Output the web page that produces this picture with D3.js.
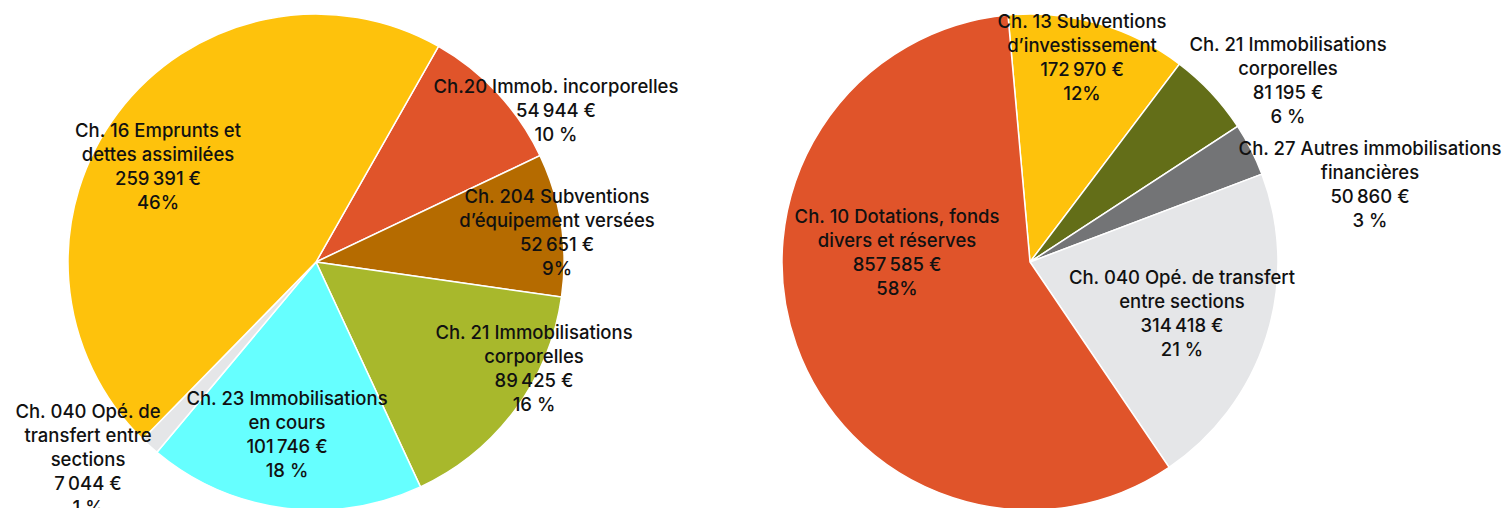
<!DOCTYPE html>
<html>
<head>
<meta charset="utf-8">
<script src="https://cdn.jsdelivr.net/npm/d3@7"></script>
<style>
  html, body { margin: 0; padding: 0; background: #fff; overflow: hidden; }
  svg { display: block; }
  .lbl { font-family: Inter, "Noto Sans", sans-serif; font-size: 18.5px; font-weight: 500; fill: #111; }
</style>
</head>
<body>
<svg id="chart"></svg>
<script>
// Left pie
const leftCats = ["Ch. 20 Immob. incorporelles", "Ch. 204 Subventions d'équipement versées", "Ch. 21 Immobilisations corporelles",
    "Ch. 23 Immobilisations en cours", "Ch. 040 Opé. de transfert entre sections", "Ch. 16 Emprunts et dettes assimilées"];
const leftValues = [54944, 52651, 89425, 101746, 7044, 259391];
const leftPct = ["10 %", "9%", "16 %", "18 %", "1 %", "46%"];
const leftLines = [
    ["Ch.20 Immob. incorporelles"],
    ["Ch. 204 Subventions", "d’équipement versées"],
    ["Ch. 21 Immobilisations", "corporelles"],
    ["Ch. 23 Immobilisations", "en cours"],
    ["Ch. 040 Opé. de", "transfert entre", "sections"],
    ["Ch. 16 Emprunts et", "dettes assimilées"],
];
const leftColors = ["#E0542A", "#B56B00", "#A8B82C", "#66FFFF", "#E5E6E8", "#FEC20C"];

// Right pie
const rightCats = ["Ch. 13 Subventions d'investissement", "Ch. 21 Immobilisations corporelles",
    "Ch. 27 Autres immobilisations financières", "Ch. 040 Opé. de transfert entre sections", "Ch. 10 Dotations, fonds divers et réserves"];
const rightValues = [172970, 81195, 50860, 314418, 857585];
const rightPct = ["12%", "6 %", "3 %", "21 %", "58%"];
const rightLines = [
    ["Ch. 13 Subventions", "d’investissement"],
    ["Ch. 21 Immobilisations", "corporelles"],
    ["Ch. 27 Autres immobilisations", "financières"],
    ["Ch. 040 Opé. de transfert", "entre sections"],
    ["Ch. 10 Dotations, fonds", "divers et réserves"],
];
const rightColors = ["#FEC20C", "#636E18", "#737476", "#E5E6E8", "#E0542A"];

const width = 1510;
const height = 508;
const svg = d3.select("#chart").attr("width", width).attr("height", height);

const fmt = (v) => d3.format(",")(v).replace(/,/g, "\u202F") + "\u00A0€";

// label anchor offsets from pie centre (layout only)
const leftLabelAt = [[240, -151], [241, -29], [218, 107], [-29, 173], [-228, 198], [-158, -95]];
const rightLabelAt = [[52, -204], [258, -181], [340, -77], [152, 52], [-133, -9]];

function drawPie(cx, cy, r, values, colors, lines, pct, startDeg, labelAt) {
    const g = svg.append("g").attr("transform", `translate(${cx},${cy})`);
    const start = (startDeg * Math.PI) / 180;
    const pie = d3.pie().sort(null).startAngle(start).endAngle(start + 2 * Math.PI);
    const arc = d3.arc().innerRadius(0).outerRadius(r);
    const arcs = pie(values);

    g.selectAll("path")
        .data(arcs)
        .join("path")
        .attr("d", arc)
        .attr("fill", (d, i) => colors[i])
        .attr("stroke", "#fff")
        .attr("stroke-width", 1.5);

    const lineH = 24;
    arcs.forEach((d, i) => {
        const rows = lines[i].concat([fmt(values[i]), pct[i]]);
        const [lx, ly] = labelAt[i];
        const y0 = ly - ((rows.length - 1) * lineH) / 2;
        const t = g.append("text").attr("class", "lbl").attr("text-anchor", "middle");
        rows.forEach((s, j) => {
            t.append("tspan").attr("x", lx).attr("y", y0 + j * lineH).attr("dy", "0.35em").text(s);
        });
    });
}

drawPie(316, 262, 248, leftValues, leftColors, leftLines, leftPct, 29.6, leftLabelAt);
drawPie(1030, 262, 248, rightValues, rightColors, rightLines, rightPct, -5.1, rightLabelAt);
</script>
</body>
</html>
